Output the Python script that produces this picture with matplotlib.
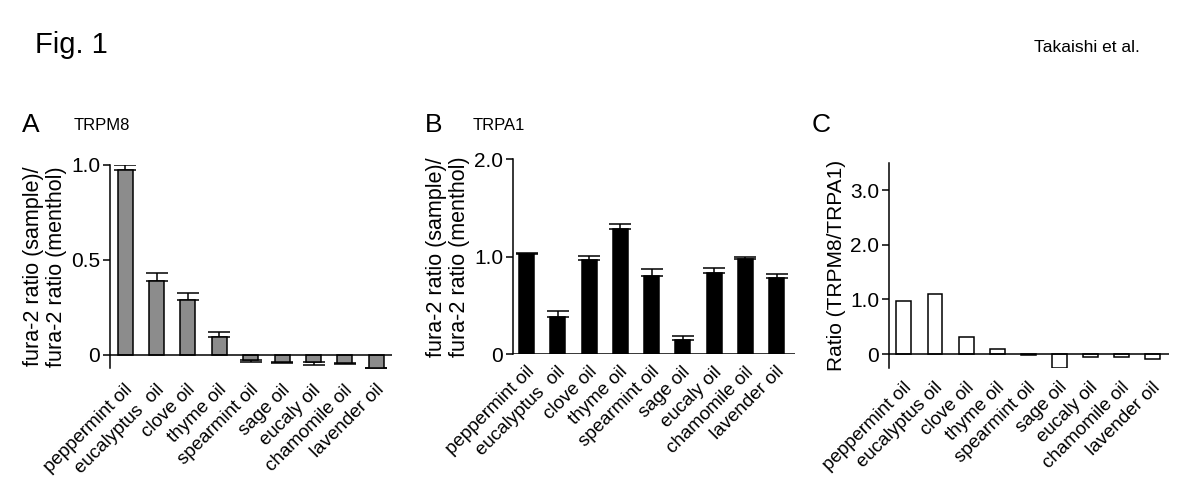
import matplotlib
matplotlib.use("Agg")
import matplotlib.pyplot as plt
import matplotlib.transforms as mtransforms
import numpy as np

plt.rcParams["font.family"] = ["Liberation Sans", "DejaVu Sans"]

# ── data ──────────────────────────────────────────────────────
oils_ab = ["peppermint oil", "eucalyptus  oil", "clove oil", "thyme oil", "spearmint oil",
           "sage oil", "eucaly oil", "chamomile oil", "lavender oil"]
oils_c = ["peppermint oil", "eucalyptus oil", "clove oil", "thyme oil", "spearmint oil",
          "sage oil", "eucaly oil", "chamomile oil", "lavender oil"]

trpm8     = [0.974, 0.39, 0.29, 0.096, -0.026, -0.038, -0.038, -0.045, -0.07]
trpm8_err = [0.026, 0.04, 0.036, 0.023, 0.010, 0.003, 0.015, 0.004, 0.0]

trpa1     = [1.025, 0.377, 0.966, 1.288, 0.805, 0.144, 0.829, 0.976, 0.78]
trpa1_err = [0.018, 0.063, 0.044, 0.045, 0.065, 0.044, 0.05, 0.024, 0.045]

ratio = [0.975, 1.097, 0.317, 0.085, -0.02, -0.25, -0.05, -0.05, -0.086]

ticks_a, ticklabels_a = [0, 0.5, 1.0], ["0", "0.5", "1.0"]
ticks_b, ticklabels_b = [0, 1.0, 2.0], ["0", "1.0", "2.0"]
ticks_c, ticklabels_c = [0, 1.0, 2.0, 3.0], ["0", "1.0", "2.0", "3.0"]

LW = 1.1


def style_panel(fig, ax, labels, yticks, yticklabels, ylim, xlim, xpad):
    x = np.arange(len(labels))
    ax.set_xlim(*xlim)
    ax.set_ylim(*ylim)
    for s in ["top", "right", "bottom"]:
        ax.spines[s].set_visible(False)
    ax.spines["left"].set_linewidth(LW)
    ax.axhline(0, color="black", linewidth=LW, zorder=4)
    ax.set_yticks(yticks)
    ax.set_yticklabels(yticklabels, fontsize=15)
    ax.tick_params(axis="y", direction="out", length=5, width=LW, pad=2)
    ax.set_xticks(x)
    ax.set_xticklabels(labels, rotation=45, ha="right", va="center",
                       rotation_mode="anchor", fontsize=13.5)
    ax.tick_params(axis="x", length=0, pad=xpad)
    # nudge rotated labels a little to the right, like the original
    shift = mtransforms.ScaledTranslation(5 / 100, 0, fig.dpi_scale_trans)
    for lbl in ax.get_xticklabels():
        lbl.set_transform(lbl.get_transform() + shift)


def one_sided_err(vals, errs):
    vals = np.asarray(vals)
    errs = np.asarray(errs)
    lower = np.where(vals < 0, errs, 0)
    upper = np.where(vals >= 0, errs, 0)
    return [lower, upper]


fig = plt.figure(figsize=(12, 4.98), dpi=100)
x = np.arange(len(oils_ab))

# Panel A
axA = fig.add_axes([0.0917, 0.261, 0.235, 0.4077])
axA.bar(x, trpm8, width=0.48, color="#8c8c8c", edgecolor="black", linewidth=LW, zorder=3)
axA.errorbar(x, trpm8, yerr=one_sided_err(trpm8, trpm8_err), fmt="none",
             ecolor="black", elinewidth=LW, capsize=8, capthick=LW, zorder=2)
style_panel(fig, axA, oils_ab, ticks_a, ticklabels_a, (-0.07, 1.0), (-0.48, 8.5), 14)
axA.set_ylabel("fura-2 ratio (sample)/\nfura-2 ratio (menthol)", fontsize=15.5,
               linespacing=1.1, labelpad=3)

# Panel B
axB = fig.add_axes([0.4275, 0.289, 0.235, 0.391])
axB.bar(x, trpa1, width=0.48, color="black", edgecolor="black", linewidth=LW, zorder=3)
axB.errorbar(x, trpa1, yerr=one_sided_err(trpa1, trpa1_err), fmt="none",
             ecolor="black", elinewidth=LW, capsize=8, capthick=LW, zorder=2)
style_panel(fig, axB, oils_ab, ticks_b, ticklabels_b, (0, 2.0), (-0.44, 8.59), 11)
axB.set_ylabel("fura-2 ratio (sample)/\nfura-2 ratio (menthol)", fontsize=15.5,
               linespacing=1.1, labelpad=3)

# Panel C
axC = fig.add_axes([0.7408, 0.2605, 0.2332, 0.4125])
axC.bar(x, ratio, width=0.48, color="white", edgecolor="black", linewidth=LW, zorder=3)
style_panel(fig, axC, oils_c, ticks_c, ticklabels_c, (-0.26, 3.5), (-0.48, 8.52), 12)
axC.set_ylabel("Ratio (TRPM8/TRPA1)", fontsize=15, labelpad=3)

# Figure texts
fig.text(0.029, 0.91, "Fig. 1", fontsize=21, va="center", ha="left")
fig.text(0.95, 0.905, "Takaishi et al.", fontsize=12.5, va="center", ha="right")
fig.text(0.018, 0.748, "A", fontsize=19, va="center", ha="left")
fig.text(0.061, 0.748, "TRPM8", fontsize=12, va="center", ha="left")
fig.text(0.354, 0.748, "B", fontsize=19, va="center", ha="left")
fig.text(0.394, 0.748, "TRPA1", fontsize=12, va="center", ha="left")
fig.text(0.676, 0.748, "C", fontsize=19, va="center", ha="left")

fig.savefig("out.png", dpi=100)
